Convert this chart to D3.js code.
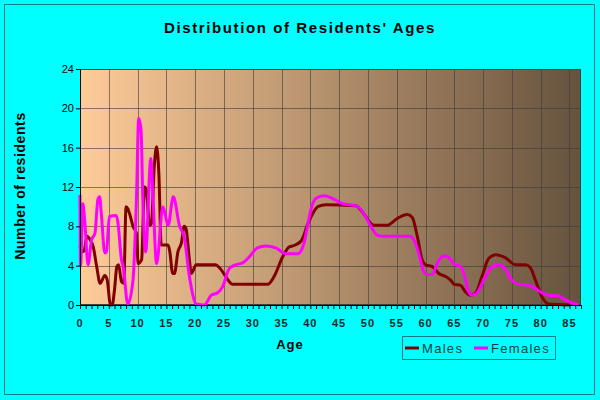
<!DOCTYPE html>
<html>
<head>
<meta charset="utf-8">
<script src="https://cdn.jsdelivr.net/npm/d3@7"></script>
<style>
  body { margin: 0; background: #fff; }
  svg { display: block; font-family: Arial, "Liberation Sans", sans-serif; }
</style>
</head>
<body>
<svg id="chart" width="600" height="400"></svg>
<script>
// data
const maleAges = [0, 0.3, 0.7, 1.2, 1.7, 2.3, 2.9, 3.5, 4.3, 4.7, 5.3, 5.6, 6.0, 6.4, 6.7, 7.2, 7.6, 8.0, 8.3, 8.7, 9.2, 9.8, 10.1, 10.7, 11.2, 11.5, 12.1, 12.4, 12.9, 13.3, 13.7, 14.1, 15.3, 15.6, 16.1, 16.4, 17.0, 17.6, 18.1, 18.4, 19.0, 19.3, 20.2, 23.5, 24.5, 25.4, 26.5, 32.6, 33.7, 35.2, 36.3, 37.4, 38.5, 39.6, 41.3, 42.7, 47.9, 49.0, 51.0, 53.3, 55.1, 56.8, 57.7, 58.6, 59.4, 60.0, 61.2, 62.3, 63.5, 64.4, 65.0, 66.1, 66.9, 67.8, 68.7, 69.8, 71.0, 72.2, 73.9, 75.6, 77.4, 78.2, 79.1, 80.2, 81.4, 85.0];
const maleCounts = [6, 5.4, 5.5, 7, 6.7, 5.9, 3.9, 2.2, 3, 2.6, 0, 0, 1.6, 3.9, 4.1, 2.4, 2.2, 10, 9.8, 9.1, 8, 7.3, 4.2, 4.6, 12, 11.7, 8.1, 8.3, 14.1, 16.1, 13.3, 6.1, 6.1, 5.4, 3.2, 3.2, 5.4, 6.3, 8, 7.8, 4.6, 3.2, 4.1, 4.1, 3.6, 2.8, 2.1, 2.1, 2.9, 4.9, 5.9, 6.1, 6.6, 8.3, 10, 10.2, 10.1, 9.5, 8.1, 8.1, 8.8, 9.2, 8.9, 6.9, 4.6, 4.1, 3.9, 3.2, 2.9, 2.5, 2.1, 2, 1.35, 1, 1.2, 2.9, 4.75, 5.1, 4.8, 4.1, 4.1, 3.8, 2.5, 0.85, 0.1, 0];

const femaleAges = [0, 0.1, 0.5, 0.8, 1.4, 2.0, 2.6, 3.1, 3.4, 3.7, 4.3, 4.6, 5.1, 6.3, 6.6, 7.2, 7.5, 8.3, 9.2, 9.8, 10.2, 10.6, 10.9, 11.4, 12.3, 12.6, 13.3, 14.4, 15.3, 16.2, 17.3, 18.1, 19.0, 20.2, 21.6, 22.8, 23.9, 24.8, 25.9, 27.1, 28.3, 29.4, 30.8, 32.3, 34.0, 35.8, 37.8, 38.9, 39.5, 40.1, 41.0, 42.4, 43.8, 45.6, 47.9, 49.3, 50.5, 51.6, 52.5, 57.3, 58.0, 58.8, 59.5, 60.1, 61.2, 62.0, 63.2, 64.1, 64.9, 66.1, 66.8, 67.5, 68.1, 68.9, 70.4, 71.6, 72.8, 73.9, 75.0, 76.2, 77.9, 79.0, 80.2, 81.3, 83.0, 84.0, 86.6];
const femaleCounts = [11.2, 4, 10.3, 8.7, 4.1, 6.6, 7.3, 10.7, 11, 9.3, 5.3, 5.4, 9, 9.1, 8.3, 4.6, 3.9, 0.1, 2.5, 10.7, 19, 17.8, 11, 5.4, 14.9, 12, 4.2, 10, 8.1, 11, 8, 6.9, 2.9, 0.1, 0, 1, 1.25, 1.9, 3.7, 4.1, 4.3, 4.9, 5.8, 6, 5.8, 5.2, 5.2, 6.3, 8, 9.7, 10.85, 11.1, 10.85, 10.3, 10.1, 9.3, 8, 7.1, 7, 7, 6.6, 5.3, 3.7, 3.1, 3.1, 4.2, 5, 4.8, 4.2, 3.9, 2.9, 1.35, 1, 1.2, 2.9, 3.9, 4.1, 3.6, 2.5, 2.1, 2, 1.7, 1.25, 1, 0.95, 0.6, 0];

const xTicks = [0, 5, 10, 15, 20, 25, 30, 35, 40, 45, 50, 55, 60, 65, 70, 75, 80, 85];
const yTicks = [0, 4, 8, 12, 16, 20, 24];
const seriesNames = ["Males", "Females"];
const seriesColors = ["#800000", "#ff00ff"];

const svg = d3.select("#chart");
const W = 600, H = 400;
const plotLeft = 80, plotRight = 581, plotTop = 69, plotBottom = 305;

// background + frame
svg.append("rect").attr("x", 0).attr("y", 0).attr("width", W).attr("height", H).attr("fill", "#00ffff");
svg.append("rect").attr("x", 4.5).attr("y", 4.5).attr("width", 590).attr("height", 390)
    .attr("fill", "none").attr("stroke", "#008080").attr("stroke-width", 1);

const x = d3.scaleLinear().domain([0, 87]).range([plotLeft, plotRight]);
const y = d3.scaleLinear().domain([0, 24]).range([plotBottom, plotTop]);

const defs = svg.append("defs");
const grad = defs.append("linearGradient").attr("id", "bg").attr("x1", "0%").attr("x2", "100%").attr("y1", "0%").attr("y2", "0%");
grad.append("stop").attr("offset", "0%").attr("stop-color", "#ffcc99");
grad.append("stop").attr("offset", "100%").attr("stop-color", "#66523e");

svg.append("rect").attr("x", plotLeft).attr("y", plotTop).attr("width", plotRight - plotLeft).attr("height", plotBottom - plotTop)
    .attr("fill", "url(#bg)");

// grid
const grid = svg.append("g").attr("stroke", "#3a3a3a").attr("stroke-opacity", 0.6).attr("stroke-width", 1);
grid.selectAll("line.v").data(xTicks.slice(1)).enter().append("line")
    .attr("x1", d => Math.round(x(d)) + 0.5).attr("x2", d => Math.round(x(d)) + 0.5)
    .attr("y1", plotTop).attr("y2", plotBottom);
grid.selectAll("line.h").data(yTicks.slice(1, -1)).enter().append("line")
    .attr("x1", plotLeft).attr("x2", plotRight)
    .attr("y1", d => Math.round(y(d)) + 0.5).attr("y2", d => Math.round(y(d)) + 0.5);

svg.append("rect").attr("x", plotLeft + 0.5).attr("y", plotTop + 0.5).attr("width", plotRight - plotLeft - 1).attr("height", plotBottom - plotTop - 1)
    .attr("fill", "none").attr("stroke", "#404040").attr("stroke-width", 1);

// lines
const line = d3.line().x(d => x(d[0])).y(d => y(d[1])).curve(d3.curveMonotoneX);
const maleData = maleAges.map((a, i) => [a, maleCounts[i]]);
const femaleData = femaleAges.map((a, i) => [a, femaleCounts[i]]);

const plot = svg.append("g");
plot.append("path").datum(maleData).attr("d", line)
    .attr("fill", "none").attr("stroke", seriesColors[0]).attr("stroke-width", 3).attr("stroke-linejoin", "round");
plot.append("path").datum(femaleData).attr("d", line)
    .attr("fill", "none").attr("stroke", seriesColors[1]).attr("stroke-width", 3).attr("stroke-linejoin", "round");

// y axis
const yAxis = svg.append("g").attr("transform", `translate(${plotLeft},0)`)
    .call(d3.axisLeft(y).tickValues(yTicks).tickSize(4).tickPadding(2));
yAxis.select(".domain").attr("stroke", "#000");
yAxis.selectAll("text").attr("font-size", 11).attr("fill", "#000")
    .attr("font-family", "Arial, 'Liberation Sans', sans-serif");

// x axis with minor ticks
const xAxis = svg.append("g").attr("transform", `translate(0,${plotBottom})`)
    .call(d3.axisBottom(x).tickValues(d3.range(0, 88)).tickSize(4).tickFormat(""));
xAxis.select(".domain").attr("stroke", "#000");
xAxis.selectAll(".tick line").attr("stroke", "#000");

svg.append("g").selectAll("text").data(xTicks).enter().append("text")
    .attr("x", d => x(d)).attr("y", plotBottom + 22)
    .attr("text-anchor", "middle").attr("font-size", 11).attr("font-weight", "bold")
    .attr("letter-spacing", 1).attr("fill", "#002a2a")
    .text(d => d);

// titles
svg.append("text").attr("x", 300).attr("y", 33).attr("text-anchor", "middle")
    .attr("font-size", 15).attr("font-weight", "bold").attr("letter-spacing", 1.6)
    .text("Distribution of Residents' Ages");

svg.append("text").attr("x", 290).attr("y", 349).attr("text-anchor", "middle")
    .attr("font-size", 13).attr("font-weight", "bold").attr("letter-spacing", 1)
    .text("Age");

svg.append("text").attr("transform", "translate(25,186) rotate(-90)").attr("text-anchor", "middle")
    .attr("font-size", 14).attr("font-weight", "bold").attr("letter-spacing", 0.6)
    .text("Number of residents");

// legend
const legend = svg.append("g").attr("transform", "translate(402,336)");
legend.append("rect").attr("x", 0.5).attr("y", 0.5).attr("width", 153).attr("height", 23)
    .attr("fill", "none").attr("stroke", "#008080");
const items = legend.selectAll("g.item").data(seriesNames).enter().append("g")
    .attr("transform", (d, i) => `translate(${i === 0 ? 3 : 72},12)`);
items.append("line").attr("x1", 0).attr("x2", 14).attr("y1", 0).attr("y2", 0)
    .attr("stroke", (d, i) => seriesColors[i]).attr("stroke-width", 3);
items.append("text").attr("x", 17).attr("y", 5).attr("font-size", 13)
    .attr("letter-spacing", 1.3).attr("fill", "#004040")
    .text(d => d);
</script>
</body>
</html>
